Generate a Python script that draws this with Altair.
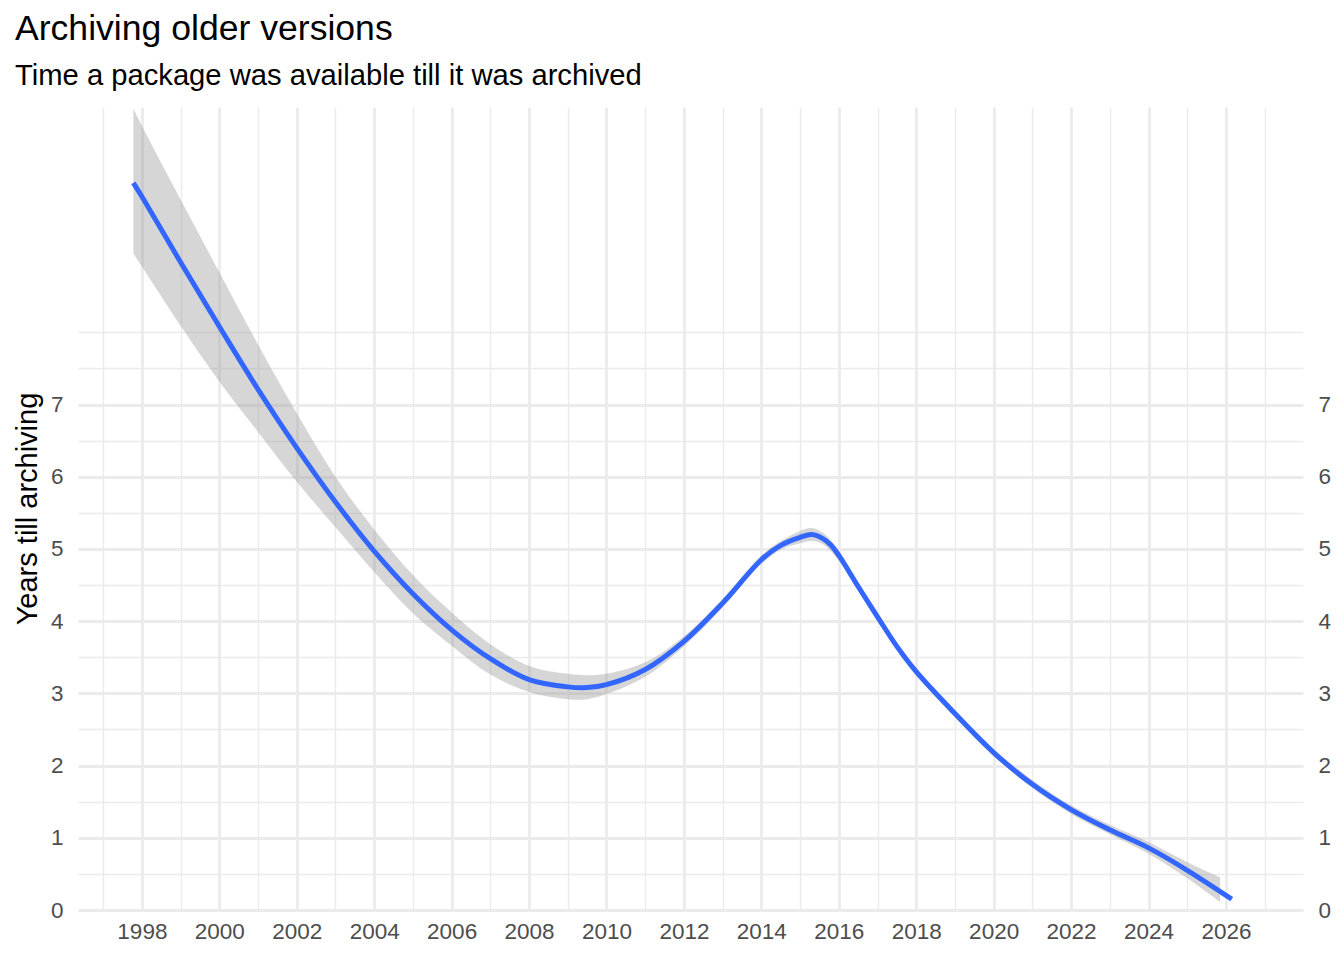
import altair as alt
import pandas as pd

# smoothed fit (years till archiving)
fit_year = [1997.78, 1998, 1999, 2000, 2001, 2002, 2003, 2004, 2005, 2006, 2007, 2008,
            2009, 2009.5, 2010, 2011, 2012, 2013, 2014, 2014.5, 2015, 2015.3, 2015.6, 2015.8,
            2016, 2016.5, 2017, 2017.5, 2018, 2019, 2020, 2021, 2022, 2023, 2024, 2025, 2026.15]
fit_value = [10.07, 9.88, 8.97, 8.08, 7.21, 6.40, 5.65, 4.97, 4.38, 3.88, 3.48, 3.19,
             3.09, 3.08, 3.12, 3.33, 3.72, 4.25, 4.85, 5.05, 5.16, 5.20, 5.14, 5.05,
             4.91, 4.48, 4.06, 3.65, 3.30, 2.72, 2.18, 1.74, 1.39, 1.11, 0.86, 0.55, 0.15]

# confidence band
band_year = [1997.78, 1998, 1999, 2000, 2001, 2002, 2003, 2004, 2005, 2006, 2007, 2008,
             2009, 2009.5, 2010, 2011, 2012, 2013, 2014, 2014.5, 2015, 2015.3, 2015.6,
             2016, 2016.5, 2017, 2017.5, 2018, 2019, 2020, 2021, 2022, 2023, 2024, 2025, 2025.85]
band_low = [9.09, 8.91, 8.09, 7.32, 6.62, 5.93, 5.30, 4.68, 4.11, 3.66, 3.26, 3.02,
            2.92, 2.92, 2.99, 3.23, 3.65, 4.19, 4.79, 4.99, 5.08, 5.11, 5.06,
            4.84, 4.43, 4.01, 3.60, 3.25, 2.67, 2.13, 1.69, 1.33, 1.05, 0.78, 0.44, 0.11]
band_high = [11.10, 10.86, 9.84, 8.83, 7.83, 6.88, 6.00, 5.27, 4.64, 4.12, 3.68, 3.38,
             3.27, 3.25, 3.27, 3.43, 3.79, 4.31, 4.91, 5.11, 5.25, 5.29, 5.22,
             4.98, 4.54, 4.11, 3.70, 3.35, 2.77, 2.23, 1.80, 1.45, 1.18, 0.94, 0.66, 0.45]

x_ticks = list(range(1997, 2028))
y_ticks = [i / 2 for i in range(0, 17)]
x_domain = [1996.35, 2027.99]
y_domain = [0, 11.12]

fit_df = pd.DataFrame({"year": fit_year, "fit": fit_value})
band_df = pd.DataFrame({"year": band_year, "lo": band_low, "hi": band_high})

FONT = "Liberation Sans"
GRID = "#EBEBEB"

xscale = alt.Scale(domain=x_domain, nice=False, zero=False)
yscale = alt.Scale(domain=y_domain, nice=False, zero=False)

xaxis = alt.Axis(
    values=x_ticks, format="d", title=None, ticks=False, domain=False,
    labelExpr="datum.value % 2 === 0 && datum.value >= 1998 && datum.value <= 2026 ? datum.label : ''",
    labelOverlap=False, labelFlush=False, labelBound=False,
    labelFont=FONT, labelFontSize=22.5, labelColor="#4D4D4D", labelPadding=10,
    grid=True, gridColor=GRID,
    gridWidth={"condition": {"test": "datum.value % 2 === 0", "value": 2.8}, "value": 1.4},
)

yaxis_left = alt.Axis(
    values=y_ticks, format=".1f", orient="left",
    title="Years till archiving", titleFont=FONT, titleFontSize=29, titleFontWeight="normal",
    titleColor="black", titleX=-42, titleY=401.5, titleAngle=-90, titleAlign="center",
    titleBaseline="alphabetic",
    ticks=False, domain=False,
    labelExpr="datum.value % 1 === 0 && datum.value <= 7 ? format(datum.value, 'd') : ''",
    labelOverlap=False, labelFlush=False,
    labelFont=FONT, labelFontSize=22.5, labelColor="#4D4D4D", labelPadding=15,
    grid=True, gridColor=GRID,
    gridWidth={"condition": {"test": "datum.value % 1 === 0 && datum.value <= 7", "value": 2.8}, "value": 1.4},
)

yaxis_right = alt.Axis(
    values=y_ticks, format=".1f", orient="right", title=None,
    ticks=False, domain=False, grid=False,
    labelExpr="datum.value % 1 === 0 && datum.value <= 7 ? format(datum.value, 'd') : ''",
    labelOverlap=False, labelFlush=False,
    labelFont=FONT, labelFontSize=22.5, labelColor="#4D4D4D", labelPadding=15,
)

band = alt.Chart(band_df).mark_area(
    color="#999999", opacity=0.4, interpolate="catmull-rom", clip=True
).encode(
    x=alt.X("year:Q", scale=xscale, axis=xaxis),
    y=alt.Y("lo:Q", scale=yscale, axis=yaxis_left),
    y2=alt.Y2("hi:Q"),
)

line = alt.Chart(fit_df).mark_line(
    color="#3366FF", strokeWidth=5, interpolate="catmull-rom", strokeCap="butt", clip=True
).encode(
    x=alt.X("year:Q", scale=xscale, axis=xaxis),
    y=alt.Y("fit:Q", scale=yscale, axis=yaxis_right),
)

chart = alt.layer(band, line).resolve_scale(y="independent").properties(
    width=1225,
    height=803,
    autosize=alt.AutoSizeParams(type="none"),
    padding={"left": 70, "top": 99, "right": 33, "bottom": 40},
    background="white",
    title=alt.TitleParams(
        text="Archiving older versions",
        subtitle="Time a package was available till it was archived",
        anchor="start", frame="group", dx=-63, offset=16,
        font=FONT, fontSize=35.6, fontWeight="normal", color="black",
        subtitleFont=FONT, subtitleFontSize=29.2, subtitleColor="black",
        subtitlePadding=14,
    ),
).configure_view(stroke=None)

chart.save("out.html", embed_options={"renderer": "svg", "actions": False})
